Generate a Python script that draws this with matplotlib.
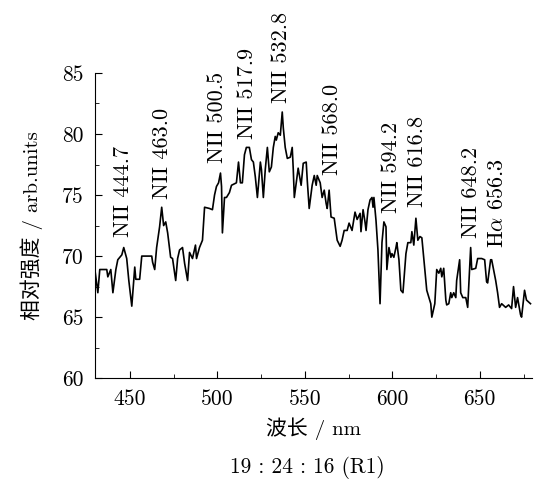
import matplotlib
matplotlib.use('Agg')
import matplotlib.pyplot as plt
from matplotlib.ticker import MultipleLocator

plt.rcParams['font.family'] = ['cmr10', 'Noto Sans CJK SC', 'DejaVu Sans']
plt.rcParams['mathtext.fontset'] = 'cm'
plt.rcParams['axes.unicode_minus'] = False

# spectrum
wavelength = [
    430.0, 431.7, 432.8, 436.8, 437.4, 439.1, 440.3, 442.0, 443.1, 445.4,
    446.5, 448.2, 449.4, 451.1, 452.2, 452.8, 453.4, 455.6, 456.8, 462.5,
    463.0, 464.2, 465.3, 467.0, 468.2, 469.3, 470.5, 471.6, 473.3, 474.4,
    476.2, 477.3, 478.4, 480.1, 481.3, 483.0, 484.1, 485.8, 487.5, 488.1,
    489.8, 491.5, 492.7, 495.5, 497.2, 498.4, 499.5, 500.7, 501.8, 502.4,
    502.9, 504.1, 505.2, 506.9, 508.1, 510.9, 512.1, 513.2, 514.3, 515.5,
    516.6, 518.3, 519.5, 520.6, 521.7, 522.9, 524.6, 525.2, 526.3, 527.4,
    528.6, 529.7, 530.9, 532.0, 533.1, 533.7, 534.8, 536.0, 537.1, 537.7,
    538.8, 540.0, 541.7, 542.8, 543.4, 544.0, 545.1, 546.2, 547.9, 549.1,
    550.8, 551.4, 552.5, 554.2, 555.4, 556.5, 557.1, 558.8, 559.9, 561.1,
    562.2, 562.8, 563.9, 565.0, 566.8, 568.5, 570.2, 571.3, 572.5, 574.2,
    575.3, 577.0, 578.7, 579.9, 581.6, 582.1, 583.3, 584.4, 585.0, 586.1,
    587.3, 588.4, 589.0, 589.5, 590.7, 591.8, 593.0, 594.1, 595.2, 596.4,
    596.9, 598.1, 599.2, 599.8, 600.9, 602.1, 602.6, 603.8, 604.9, 606.1,
    607.8, 608.9, 610.6, 611.2, 612.3, 613.5, 614.6, 615.8, 616.9, 618.6,
    619.7, 622.0, 622.6, 624.3, 625.4, 626.6, 627.7, 628.3, 629.4, 630.6,
    631.1, 632.3, 633.4, 634.0, 635.1, 636.3, 636.8, 638.5, 639.1, 640.3,
    642.0, 643.1, 644.8, 645.4, 647.7, 648.8, 651.1, 652.8, 653.9, 654.5,
    656.2, 656.8, 657.9, 659.1, 660.2, 661.3, 662.5, 664.8, 666.5, 668.2,
    669.3, 670.5, 671.6, 673.3, 673.9, 675.6, 676.7, 679.0,
]
intensity = [
    68.9, 67.0, 68.9, 68.9, 68.3, 68.9, 67.0, 68.9, 69.7, 70.1,
    70.7, 69.8, 68.0, 65.9, 68.0, 69.1, 68.1, 68.1, 70.0, 70.0,
    69.5, 68.9, 70.7, 72.4, 74.0, 72.5, 72.8, 71.9, 69.9, 69.8,
    68.0, 69.8, 70.5, 70.7, 69.4, 68.0, 70.3, 69.8, 70.9, 69.8,
    70.7, 71.3, 74.0, 73.9, 73.8, 75.0, 75.7, 76.0, 76.8, 75.7,
    71.9, 74.8, 74.8, 75.2, 75.8, 76.0, 77.7, 76.0, 76.0, 78.3,
    78.9, 78.9, 77.9, 77.7, 76.5, 74.8, 77.7, 77.1, 74.8, 77.1,
    78.9, 76.9, 77.3, 78.9, 79.8, 79.5, 80.1, 79.9, 81.8, 80.5,
    78.9, 78.0, 78.1, 78.9, 77.1, 74.8, 76.0, 77.2, 75.8, 77.6,
    77.7, 76.2, 73.9, 75.8, 76.6, 75.8, 76.6, 76.0, 74.8, 75.4,
    74.3, 73.9, 75.4, 73.2, 73.1, 71.3, 70.8, 71.3, 72.1, 72.1,
    72.7, 72.1, 73.6, 73.0, 73.5, 72.0, 73.8, 72.8, 72.1, 73.8,
    74.6, 74.8, 74.0, 74.8, 72.9, 70.5, 66.1, 71.1, 72.8, 72.4,
    68.9, 70.7, 69.9, 70.2, 69.9, 70.7, 71.1, 69.7, 67.2, 67.0,
    70.2, 71.1, 71.1, 72.0, 70.9, 73.1, 71.3, 71.6, 71.5, 68.9,
    67.2, 66.1, 65.0, 66.1, 68.9, 68.6, 69.0, 68.3, 69.0, 66.4,
    66.0, 66.1, 67.0, 66.6, 67.0, 66.6, 68.0, 69.7, 67.0, 66.6,
    66.6, 65.8, 70.7, 68.9, 69.0, 69.8, 69.8, 69.7, 67.9, 67.8,
    69.7, 69.7, 68.9, 68.0, 67.0, 65.8, 66.1, 65.8, 66.0, 65.7,
    67.5, 65.8, 66.6, 65.2, 65.0, 67.2, 66.4, 66.1,
]

# line labels: text, x position, y of the text start
line_names = ['NII 444.7', 'NII 463.0', 'NII 500.5', 'NII 517.9', 'NII 532.8',
              'NII 568.0', 'NII 594.2', 'NII 616.8', 'NII 648.2', r'H$\alpha$ 656.3']
label_x = [446.5, 468.6, 500.1, 517.2, 536.5, 565.6, 599.2, 614.0, 645.4, 659.6]
label_y = [71.6, 74.7, 77.6, 79.6, 82.5, 76.6, 73.5, 74.0, 71.5, 70.7]

fig = plt.figure(figsize=(5.36, 4.83), dpi=100)
ax = fig.add_axes([0.177, 0.217, 0.816, 0.632])
ax.plot(wavelength, intensity, color='black', lw=1.2)

for name, x, y in zip(line_names, label_x, label_y):
    ax.text(x, y, name, rotation=90, ha='center', va='bottom',
            fontsize=16, clip_on=False)

ax.set_xlim(430, 680)
ax.set_ylim(60, 85)
ax.xaxis.set_major_locator(MultipleLocator(50))
ax.xaxis.set_minor_locator(MultipleLocator(25))
ax.yaxis.set_major_locator(MultipleLocator(5))
ax.yaxis.set_minor_locator(MultipleLocator(2.5))
ax.tick_params(which='both', direction='in', labelsize=15.5)
ax.tick_params(which='major', length=5, pad=8)
ax.tick_params(which='minor', length=3)
ax.spines['top'].set_visible(False)
ax.spines['right'].set_visible(False)

ax.set_xlabel('波长 / nm', fontsize=15, labelpad=6)
ax.set_ylabel('相对强度 / arb.units', fontsize=15, labelpad=14)
fig.text(0.573, 0.033, '19 : 24 : 16 (R1)', ha='center', va='center', fontsize=15.5)

fig.savefig('out.png', dpi=100)
